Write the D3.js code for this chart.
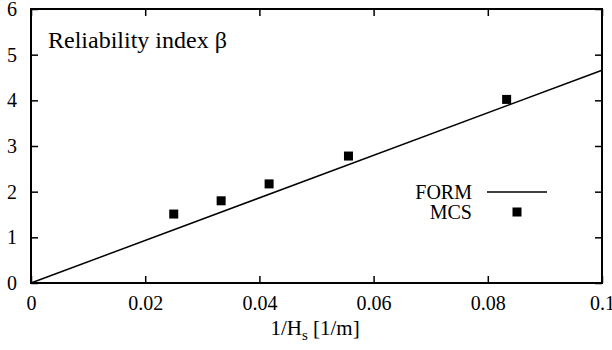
<!DOCTYPE html>
<html>
<head>
<meta charset="utf-8">
<script src="https://cdn.jsdelivr.net/npm/d3@7"></script>
<style>
  body { margin: 0; background: #fff; }
</style>
</head>
<body>
<script>
// FORM line endpoints (1/Hs, beta)
const formX = [0, 0.1];
const formY = [0, 4.66];
// MCS results
const mcsX = [0.025, 0.0333, 0.0417, 0.0556, 0.0833];
const mcsY = [1.51, 1.80, 2.17, 2.78, 4.02];
const xTicks = [0, 0.02, 0.04, 0.06, 0.08, 0.1];
const yTicks = [0, 1, 2, 3, 4, 5, 6];

const font = 'Liberation Serif';
const width = 612, height = 350;
const margin = { top: 9, right: 10, bottom: 67, left: 31 };
const w = width - margin.left - margin.right;
const h = height - margin.top - margin.bottom;

const svg = d3.select('body').append('svg')
    .attr('width', width)
    .attr('height', height)
    .style('font-family', font);

const g = svg.append('g').attr('transform', `translate(${margin.left},${margin.top})`);

const x = d3.scaleLinear().domain([0, 0.1]).range([0, w]);
const y = d3.scaleLinear().domain([0, 6]).range([h, 0]);

const tickLen = 7;

// axes with inward ticks
const xAxis = g.append('g').attr('transform', `translate(0,${h})`)
    .call(d3.axisBottom(x).tickValues(xTicks).tickSize(-tickLen).tickPadding(13)
        .tickFormat(d => String(+d.toFixed(2))));
const xTop = g.append('g')
    .call(d3.axisTop(x).tickValues(xTicks).tickSize(-tickLen).tickFormat(''));
const yAxis = g.append('g')
    .call(d3.axisLeft(y).tickValues(yTicks).tickSize(-tickLen).tickPadding(14)
        .tickFormat(d3.format('d')));
const yRight = g.append('g').attr('transform', `translate(${w},0)`)
    .call(d3.axisRight(y).tickValues(yTicks).tickSize(-tickLen).tickFormat(''));

[xAxis, xTop, yAxis, yRight].forEach(a => {
    a.attr('font-family', null).attr('font-size', null);
    a.select('.domain').remove();
    a.selectAll('line').attr('stroke', '#000').attr('stroke-width', 1.5);
    a.selectAll('text').style('font-family', font).style('font-size', '20px').attr('fill', '#000');
});
xAxis.selectAll('text').attr('dy', '0.71em');

// frame
g.append('rect')
    .attr('width', w).attr('height', h)
    .attr('fill', 'none').attr('stroke', '#000').attr('stroke-width', 2);

// FORM line
const line = d3.line().x((d, i) => x(formX[i])).y(d => y(d));
g.append('path')
    .datum(formY)
    .attr('d', line)
    .attr('fill', 'none').attr('stroke', '#000').attr('stroke-width', 1.5);

// MCS points
const sq = 9;
g.selectAll('.mcs')
    .data(mcsX)
    .enter().append('rect')
    .attr('class', 'mcs')
    .attr('x', d => x(d) - sq / 2)
    .attr('y', (d, i) => y(mcsY[i]) - sq / 2)
    .attr('width', sq).attr('height', sq)
    .attr('fill', '#000');

// inner title
g.append('text')
    .attr('x', 17).attr('y', 39)
    .style('font-family', font)
    .style('font-size', '24px')
    .text('Reliability index β');

// legend
const leg = g.append('g').attr('transform', `translate(${472 - margin.left},0)`);
leg.append('text').attr('x', 0).attr('y', 192 - margin.top)
    .attr('text-anchor', 'end').attr('dy', '0.35em')
    .style('font-family', font).style('font-size', '20px').text('FORM');
leg.append('line')
    .attr('x1', 15).attr('x2', 75)
    .attr('y1', 192 - margin.top).attr('y2', 192 - margin.top)
    .attr('stroke', '#000').attr('stroke-width', 1.5);
leg.append('text').attr('x', 0).attr('y', 212 - margin.top)
    .attr('text-anchor', 'end').attr('dy', '0.35em')
    .style('font-family', font).style('font-size', '20px').text('MCS');
leg.append('rect')
    .attr('x', 45 - sq / 2).attr('y', 212 - margin.top - sq / 2)
    .attr('width', sq).attr('height', sq).attr('fill', '#000');

// x axis label
const xl = svg.append('text')
    .attr('x', 315).attr('y', 335)
    .attr('text-anchor', 'middle')
    .style('font-family', font)
    .style('font-size', '21px');
xl.append('tspan').text('1/H');
xl.append('tspan').attr('dy', 5).style('font-size', '15px').text('s');
xl.append('tspan').attr('dy', -5).text(' [1/m]');
</script>
</body>
</html>
